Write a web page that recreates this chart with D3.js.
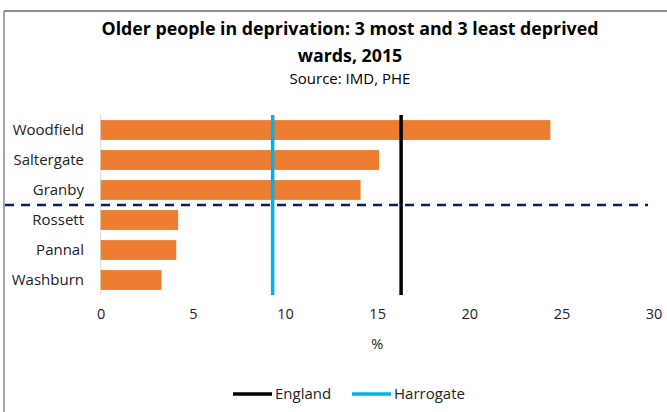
<!DOCTYPE html>
<html>
<head>
<meta charset="utf-8">
<script src="https://cdn.jsdelivr.net/npm/d3@7"></script>
<style>
html,body{margin:0;padding:0;background:#fff;}
svg{display:block;font-family:"Open Sans","Noto Sans",sans-serif;}
</style>
</head>
<body>
<svg id="chart" width="667" height="412"></svg>
<script>
const categories = ["Woodfield", "Saltergate", "Granby", "Rossett", "Pannal", "Washburn"];
const values = [24.4, 15.1, 14.1, 4.2, 4.1, 3.3];
const refNames = ["England", "Harrogate"];
const refValues = [16.3, 9.33];
const refColors = ["#000000", "#00b0f0"];
const xTicks = [0, 5, 10, 15, 20, 25, 30];

const svg = d3.select("#chart");
const W = 667, H = 412;

// frame
svg.append("line").attr("x1", 4).attr("x2", W).attr("y1", 11).attr("y2", 11)
  .attr("stroke", "#222").attr("stroke-width", 1.2);
svg.append("line").attr("x1", 4).attr("x2", 4).attr("y1", 11).attr("y2", H)
  .attr("stroke", "#888").attr("stroke-width", 1.5);

// titles
const tcx = 350;
svg.append("text").attr("x", tcx).attr("y", 35).attr("text-anchor", "middle")
  .attr("font-weight", "bold").attr("font-size", 17.8).attr("fill", "#000")
  .text("Older people in deprivation: 3 most and 3 least deprived");
svg.append("text").attr("x", tcx).attr("y", 62).attr("text-anchor", "middle")
  .attr("font-weight", "bold").attr("font-size", 17.8).attr("fill", "#000")
  .text("wards, 2015");
svg.append("text").attr("x", tcx).attr("y", 84).attr("text-anchor", "middle")
  .attr("font-size", 15).attr("fill", "#000")
  .text("Source: IMD, PHE");

const x = d3.scaleLinear().domain([0, 30]).range([100.7, 653.6]);
const y = d3.scaleBand().domain(categories).range([115, 295]).paddingInner(0.34).paddingOuter(0.17);

// y axis line
svg.append("line").attr("x1", x(0)).attr("x2", x(0)).attr("y1", 115).attr("y2", 295)
  .attr("stroke", "#d9d9d9").attr("stroke-width", 1);

// bars
svg.selectAll("rect.bar").data(categories).enter().append("rect")
  .attr("class", "bar")
  .attr("x", x(0))
  .attr("y", d => y(d))
  .attr("width", (d, i) => x(values[i]) - x(0))
  .attr("height", y.bandwidth())
  .attr("fill", "#ed7d31");

// category labels
svg.selectAll("text.cat").data(categories).enter().append("text")
  .attr("class", "cat")
  .attr("x", 84)
  .attr("y", d => y(d) + y.bandwidth() / 2)
  .attr("dy", "0.35em")
  .attr("text-anchor", "end")
  .attr("font-size", 15)
  .attr("fill", "#222")
  .text(d => d);

// reference lines
svg.selectAll("line.ref").data(refValues).enter().append("line")
  .attr("class", "ref")
  .attr("x1", d => x(d)).attr("x2", d => x(d))
  .attr("y1", 115).attr("y2", 295)
  .attr("stroke", (d, i) => refColors[i])
  .attr("stroke-width", 3.5);

// dashed divider between most and least deprived
const divY = (y("Granby") + y.bandwidth() + y("Rossett")) / 2;
svg.append("line").attr("x1", 5).attr("x2", 648).attr("y1", divY).attr("y2", divY)
  .attr("stroke", "#002060").attr("stroke-width", 2.5)
  .attr("stroke-dasharray", "9,7");

// x axis tick labels
const xAxis = d3.axisBottom(x).tickValues(xTicks).tickSize(0).tickPadding(0);
const gx = svg.append("g").attr("transform", "translate(0,309)").call(xAxis);
gx.select(".domain").remove();
gx.selectAll("text").attr("font-size", 14.5).attr("fill", "#222")
  .attr("font-family", "'Open Sans','Noto Sans',sans-serif");

// axis title
svg.append("text").attr("x", x(15)).attr("y", 349).attr("text-anchor", "middle")
  .attr("font-size", 14.5).attr("fill", "#222").text("%");

// legend
const legendX = [233, 352];
refNames.forEach((n, i) => {
  const g = svg.append("g").attr("transform", `translate(${legendX[i]},394)`);
  g.append("line").attr("x1", 0).attr("x2", 39).attr("y1", 0).attr("y2", 0)
    .attr("stroke", refColors[i]).attr("stroke-width", 3.5);
  g.append("text").attr("x", 42).attr("y", 0).attr("dy", "0.35em")
    .attr("font-size", 15).attr("fill", "#222").text(n);
});
</script>
</body>
</html>
